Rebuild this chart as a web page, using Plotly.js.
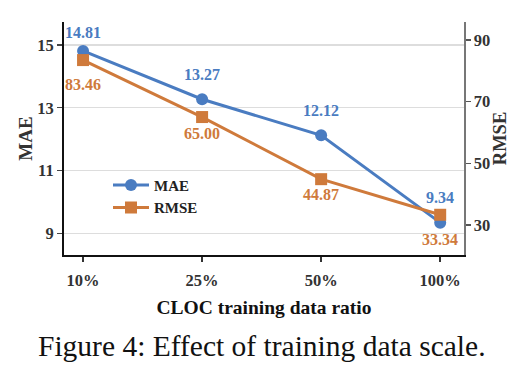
<!DOCTYPE html>
<html>
<head>
<meta charset="utf-8">
<script src="https://cdn.plot.ly/plotly-3.0.1.min.js"></script>
<style>
  html, body { margin: 0; padding: 0; background: #fff; }
  #chart { width: 530px; height: 376px; }
</style>
</head>
<body>
<div id="chart"></div>
<script>
// Training data ratios and the two error metrics
const ratios = ['10%', '25%', '50%', '100%'];
const maeValues = [14.81, 13.27, 12.12, 9.34];
const rmseValues = [83.46, 65.00, 44.87, 33.34];
const maeTicks = [9, 11, 13, 15];
const rmseTicks = [30, 50, 70, 90];

const blue = '#4a7cc1';
const orange = '#cf7a3b';
const serif = 'Liberation Serif, Times New Roman, serif';

// vertical pixel offsets of the value labels from their points
const maeLabelShift = [18, 25, 25, 25];
const rmseLabelShift = [24, 16, 15, 25];

const mae = {
  x: ratios, y: maeValues, name: 'MAE', yaxis: 'y',
  mode: 'lines+markers',
  line: { color: blue, width: 3 },
  marker: { symbol: 'circle', size: 12, color: blue },
  cliponaxis: false
};

const rmse = {
  x: ratios, y: rmseValues, name: 'RMSE', yaxis: 'y2',
  mode: 'lines+markers',
  line: { color: orange, width: 3 },
  marker: { symbol: 'square', size: 12, color: orange },
  cliponaxis: false
};

const labelFont = c => ({ family: serif, size: 16, color: c, weight: 'bold' });

const annotations = [];
ratios.forEach((r, i) => {
  annotations.push({
    x: r, y: maeValues[i], xref: 'x', yref: 'y',
    text: maeValues[i].toFixed(2), showarrow: false,
    xanchor: 'center', yanchor: 'middle', yshift: maeLabelShift[i],
    font: labelFont(blue)
  });
  annotations.push({
    x: r, y: rmseValues[i], xref: 'x', yref: 'y2',
    text: rmseValues[i].toFixed(2), showarrow: false,
    xanchor: 'center', yanchor: 'middle', yshift: -rmseLabelShift[i],
    font: labelFont(orange)
  });
});
annotations.push({
  text: 'Figure 4: Effect of training data scale.',
  xref: 'paper', yref: 'paper', x: 0.495, y: -0.39,
  xanchor: 'center', yanchor: 'middle', showarrow: false,
  font: { family: serif, size: 29.5, color: '#111' }
});

const tickFont = { family: serif, size: 16.5, color: '#333', weight: 'bold' };

const layout = {
  width: 530, height: 376,
  margin: { l: 64, r: 66, t: 22, b: 121 },
  paper_bgcolor: '#fff', plot_bgcolor: '#fff',
  showlegend: true,
  legend: {
    x: 0.11, y: 0.37, xanchor: 'left', yanchor: 'top',
    bgcolor: 'rgba(0,0,0,0)', tracegroupgap: 0, itemwidth: 36,
    font: { family: serif, size: 15, color: '#222', weight: 'bold' }
  },
  xaxis: {
    type: 'category', range: [-0.16, 3.2],
    showline: true, linecolor: '#111', linewidth: 2,
    ticks: 'outside', ticklen: 5, tickcolor: '#333', tickwidth: 1.5,
    ticklabelstandoff: 4,
    showgrid: false, zeroline: false,
    tickfont: tickFont,
    title: { text: 'CLOC training data ratio', standoff: 12,
             font: { family: serif, size: 19.5, color: '#111', weight: 'bold' } }
  },
  yaxis: {
    range: [8.31, 15.73], tickvals: maeTicks,
    showline: true, linecolor: '#111', linewidth: 2,
    ticks: 'outside', ticklen: 5, tickcolor: '#444', tickwidth: 1.5,
    showgrid: true, gridcolor: '#dddddd', gridwidth: 1.5, zeroline: false,
    tickfont: tickFont,
    title: { text: 'MAE', standoff: 0,
             font: { family: serif, size: 19, color: '#333', weight: 'bold' } }
  },
  yaxis2: {
    overlaying: 'y', side: 'right',
    range: [20.3, 95.8], tickvals: rmseTicks,
    showline: true, linecolor: '#777', linewidth: 1.5,
    ticks: 'outside', ticklen: 5, tickcolor: '#555', tickwidth: 1.5,
    showgrid: false, zeroline: false,
    tickfont: tickFont,
    title: { text: 'RMSE', standoff: 4,
             font: { family: serif, size: 18.5, color: '#333', weight: 'bold' } }
  },
  annotations: annotations
};

Plotly.newPlot('chart', [mae, rmse], layout, { displayModeBar: false, staticPlot: true });
</script>
</body>
</html>
